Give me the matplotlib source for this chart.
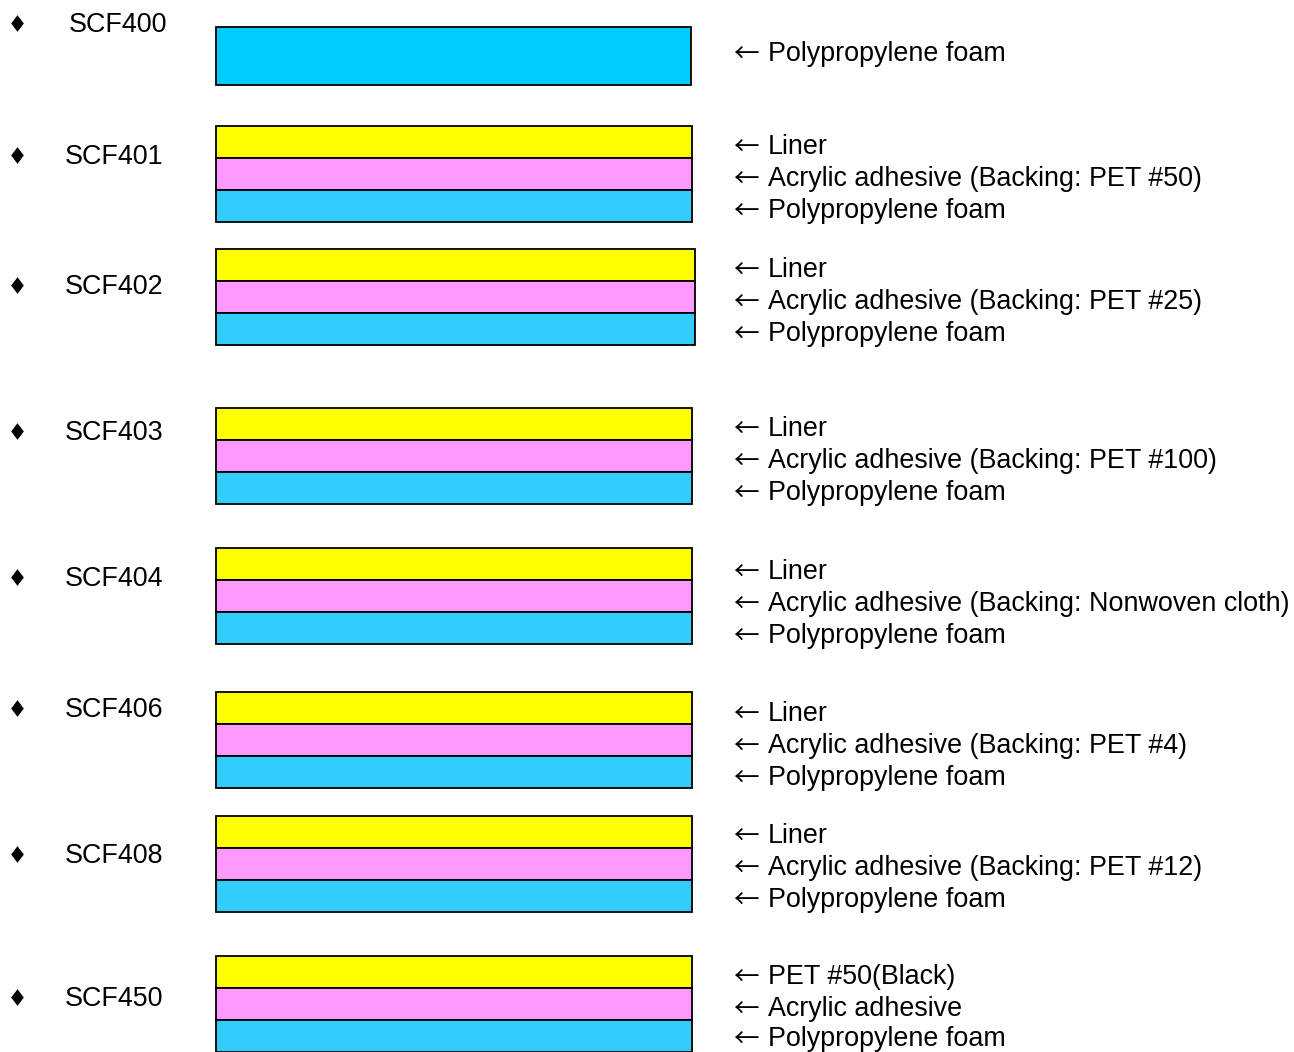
import matplotlib
matplotlib.use('Agg')
import matplotlib.pyplot as plt
from matplotlib.patches import Rectangle

# product names and layer descriptions (top to bottom)
products = ['SCF400', 'SCF401', 'SCF402', 'SCF403', 'SCF404', 'SCF406', 'SCF408', 'SCF450']
layers = [
    ['Polypropylene foam'],
    ['Liner', 'Acrylic adhesive (Backing: PET #50)', 'Polypropylene foam'],
    ['Liner', 'Acrylic adhesive (Backing: PET #25)', 'Polypropylene foam'],
    ['Liner', 'Acrylic adhesive (Backing: PET #100)', 'Polypropylene foam'],
    ['Liner', 'Acrylic adhesive (Backing: Nonwoven cloth)', 'Polypropylene foam'],
    ['Liner', 'Acrylic adhesive (Backing: PET #4)', 'Polypropylene foam'],
    ['Liner', 'Acrylic adhesive (Backing: PET #12)', 'Polypropylene foam'],
    ['PET #50(Black)', 'Acrylic adhesive', 'Polypropylene foam'],
]

# layout (pixel coordinates, y downward)
block_top = [27, 126, 249, 408, 548, 692, 816, 956]
block_right = [691, 692, 695, 692, 692, 692, 692, 692]
label_y = [25, 157, 287, 433, 579, 710, 856, 999]
label_x = [69, 65, 65, 65, 65, 65, 65, 65]
text_y = [[54], [147, 179, 211], [270, 302, 334], [429, 461, 493],
          [572, 604, 636], [714, 746, 778], [836, 868, 900], [977, 1009, 1039]]
layer_h = 32
colors3 = ['#FFFF00', '#FF99FF', '#33CCFF']

fam = ['Liberation Sans', 'DejaVu Sans']
fs = 19.4
diamond = [(0, 1), (0.76, 0), (0, -1), (-0.76, 0), (0, 1)]

fig = plt.figure(figsize=(12.94, 10.52), dpi=100)
ax = fig.add_axes([0, 0, 1, 1])
ax.set_xlim(0, 1294)
ax.set_ylim(1052, 0)
ax.axis('off')

for i, name in enumerate(products):
    left = 216
    width = block_right[i] - left
    if len(layers[i]) == 1:
        ax.add_patch(Rectangle((left, block_top[i]), width, 58,
                               facecolor='#00CCFF', edgecolor='black', lw=1.3))
    else:
        for j in range(len(layers[i])):
            ax.add_patch(Rectangle((left, block_top[i] + j * layer_h), width, layer_h,
                                   facecolor=colors3[j], edgecolor='black', lw=1.3))
    ax.plot(17, label_y[i] - 2, marker=diamond, ms=12, color='black', mew=0)
    ax.text(label_x[i], label_y[i], name, fontsize=fs, family=fam, va='center')
    for j, lab in enumerate(layers[i]):
        ty = text_y[i][j]
        # arrow drawn separately so it looks thin and long like the original
        ax.text(746, ty + 2, '\u2190', fontsize=fs - 1, family=['Noto Sans CJK JP'],
                ha='center', va='center')
        ax.text(768, ty, lab, fontsize=fs, family=fam, va='center')

fig.savefig('out.png', dpi=100)
